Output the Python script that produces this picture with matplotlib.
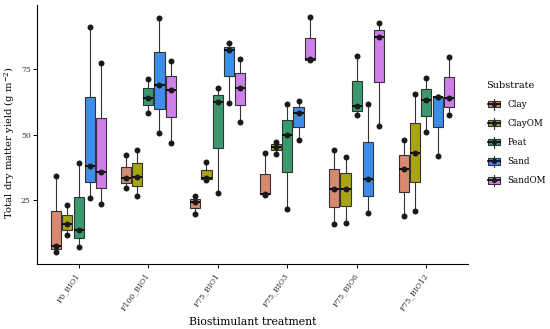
import matplotlib
matplotlib.use("Agg")
import matplotlib.pyplot as plt
import numpy as np
from matplotlib.patches import Rectangle
from matplotlib.lines import Line2D
from matplotlib.legend_handler import HandlerBase

plt.rcParams['font.family'] = ['DejaVu Serif']
plt.rcParams['mathtext.fontset'] = 'dejavuserif'

treatments = ["F0_BIO1", "F100_BIO1", "F75_BIO1", "F75_BIO3", "F75_BIO6", "F75_BIO12"]
substrates = ["Clay", "ClayOM", "Peat", "Sand", "SandOM"]
colors = ['#D8896F', '#A8A515', '#3A9A6E', '#3D8DEB', '#CF7FEA']

# three replicates per treatment (order follows `treatments`)
clay = [[5.3, 7.7, 34.3], [29.8, 33.4, 42.3], [19.8, 24.3, 26.6],
        [27.2, 27.4, 43.0], [16.0, 29.2, 44.3], [19.1, 36.9, 47.8]]
clay_om = [[11.7, 16.0, 23.1], [26.6, 34.0, 44.3], [32.7, 33.6, 39.6],
           [42.8, 45.3, 47.2], [16.3, 29.5, 41.5], [21.1, 43.2, 65.3]]
peat = [[7.3, 13.7, 39.1], [58.3, 63.9, 71.2], [27.7, 62.3, 67.8],
        [21.6, 49.7, 61.7], [57.3, 60.7, 79.8], [50.9, 63.0, 71.4]]
sand = [[26.0, 38.1, 90.8], [50.6, 68.9, 94.3], [62.1, 82.3, 84.7],
        [47.8, 58.3, 62.7], [20.3, 33.2, 61.5], [41.9, 64.2, 64.5]]
sand_om = [[23.6, 35.6, 77.1], [46.8, 66.8, 77.9], [54.9, 67.8, 78.8],
           [78.2, 78.6, 94.8], [53.1, 87.3, 92.3], [57.3, 64.0, 79.7]]

series = [clay, clay_om, peat, sand, sand_om]

fig = plt.figure(figsize=(5.5, 3.29), dpi=100)
ax = fig.add_axes([37/550, 65/329, 431/550, 259/329])

n = len(substrates)
step = 0.162
width = 0.145
for j, (vals, col) in enumerate(zip(series, colors)):
    pos = np.arange(1, len(treatments) + 1) + (j - (n - 1) / 2) * step
    ax.boxplot(vals, positions=pos, widths=width, patch_artist=True,
               showcaps=False, showfliers=False, whis=1.5,
               boxprops=dict(facecolor=col, edgecolor='#333333', linewidth=0.8),
               whiskerprops=dict(color='#333333', linewidth=0.8),
               medianprops=dict(color='black', linewidth=1.3),
               manage_ticks=False, zorder=2)
    for p, v in zip(pos, vals):
        ax.plot([p] * len(v), v, 'o', color='#1a1a1a', markersize=4.3,
                zorder=3, markeredgewidth=0)

ax.set_xlim(0.4, 6.6)
ax.set_ylim(0.8, 99.3)
ax.set_yticks([25, 50, 75])
ax.set_xticks(np.arange(1, len(treatments) + 1))
ax.set_xticklabels(treatments, rotation=55, ha='right', va='center',
                   rotation_mode='anchor')
ax.tick_params(axis='both', labelsize=5.6, colors='black', labelcolor='#333333',
               length=3, width=0.7, direction='out')
ax.tick_params(axis='x', pad=4)
ax.tick_params(axis='y', pad=1.5)
for s in ['top', 'right']:
    ax.spines[s].set_visible(False)
for s in ['left', 'bottom']:
    ax.spines[s].set_linewidth(0.8)

ax.set_xlabel('Biostimulant treatment', fontsize=7.8)
ax.xaxis.set_label_coords(0.5, (264 - 322) / 259)
ax.xaxis.label.set_va('center')
ax.set_ylabel(r'Total dry matter yield (g m$^{-2}$)', fontsize=7.2)
ax.yaxis.set_label_coords((10 - 37) / 431, 0.47)
ax.yaxis.label.set_va('center')


class BoxKey(HandlerBase):
    def __init__(self, color):
        super().__init__()
        self.color = color

    def create_artists(self, legend, orig_handle, xdescent, ydescent,
                       width, height, fontsize, trans):
        x0, y0 = -xdescent, -ydescent
        cx = x0 + width / 2
        arts = []
        arts.append(Line2D([cx, cx], [y0 - 0.2 * height, y0 + 1.2 * height],
                           color='#333333', lw=0.8, transform=trans))
        arts.append(Rectangle((x0 + 0.1 * width, y0 + 0.1 * height),
                              0.8 * width, 0.8 * height, facecolor=self.color,
                              edgecolor='#333333', lw=0.8, transform=trans))
        arts.append(Line2D([x0 + 0.1 * width, x0 + 0.9 * width],
                           [y0 + 0.5 * height] * 2, color='black', lw=1.2,
                           transform=trans))
        arts.append(Line2D([cx], [y0 + 0.5 * height], marker='o',
                           color='#1a1a1a', markersize=3.8, markeredgewidth=0,
                           transform=trans))
        return arts


handles = [Rectangle((0, 0), 1, 1) for _ in substrates]
hmap = {h: BoxKey(c) for h, c in zip(handles, colors)}
leg = fig.legend(handles, substrates, handler_map=hmap, loc='upper left',
                 bbox_to_anchor=(480/550, 1 - 75/329), frameon=False,
                 fontsize=6.3, title='Substrate', title_fontsize=7,
                 handlelength=1.75, handleheight=1.0, labelspacing=1.15,
                 handletextpad=0.7, borderpad=0.2)
leg._legend_box.align = 'left'

fig.savefig('out.png', dpi=100)
